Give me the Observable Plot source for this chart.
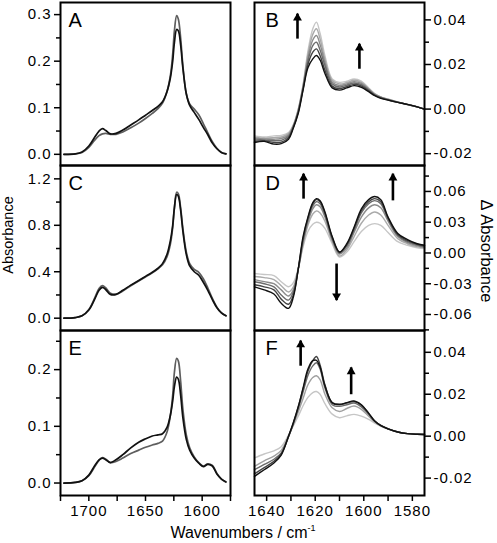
<!DOCTYPE html>
<html><head><meta charset="utf-8">
<script src="https://cdn.jsdelivr.net/npm/d3@7"></script>
<script src="https://cdn.jsdelivr.net/npm/@observablehq/plot@0.6"></script>
<style>
html,body{margin:0;padding:0;background:#fff;}
#fig{position:relative;width:497px;height:543px;overflow:hidden;background:#fff;font-family:"Liberation Sans",Arial,sans-serif;color:#000;}
.cell{position:absolute;}
.cell svg{overflow:visible;}
.cell svg g[aria-label$="axis tick label"] text{letter-spacing:1px;}
.lab{position:absolute;white-space:nowrap;font-family:"Liberation Sans",Arial,sans-serif;}
</style></head><body><div id="fig"></div>
<script>
// ---------- data: absorbance spectra (left column) ----------
const leftWn = [1722,1712,1706,1700,1695,1691,1688,1685,1681,1676,1670,1663,1656,1650,1644,1639,1635,1631,1628,1626,1624.5,1622.5,1621,1619,1617,1614,1611,1607,1603,1599,1595,1591,1587,1583,1579];
const specA_black = [0,0.001,0.005,0.018,0.036,0.05,0.055,0.051,0.044,0.045,0.052,0.063,0.074,0.084,0.094,0.103,0.113,0.135,0.165,0.2,0.24,0.268,0.265,0.235,0.185,0.13,0.105,0.09,0.075,0.058,0.042,0.024,0.012,0.004,0.001];
const specA_gray  = [0,0.001,0.004,0.015,0.03,0.04,0.044,0.045,0.043,0.043,0.048,0.057,0.067,0.077,0.088,0.098,0.11,0.135,0.17,0.215,0.265,0.298,0.29,0.25,0.19,0.13,0.108,0.097,0.085,0.066,0.046,0.027,0.013,0.004,0.001];
const specC_black = [0,0.005,0.02,0.07,0.16,0.24,0.265,0.245,0.205,0.205,0.24,0.285,0.325,0.36,0.395,0.43,0.47,0.55,0.67,0.8,0.95,1.065,1.05,0.93,0.75,0.55,0.45,0.4,0.37,0.31,0.24,0.16,0.09,0.045,0.02];
const specC_gray  = [0,0.005,0.02,0.075,0.17,0.255,0.28,0.26,0.215,0.205,0.235,0.28,0.32,0.355,0.39,0.425,0.46,0.53,0.64,0.78,0.95,1.085,1.07,0.95,0.77,0.57,0.47,0.42,0.395,0.34,0.26,0.17,0.095,0.045,0.02];
const specE_black = [0,0.001,0.004,0.014,0.03,0.041,0.044,0.041,0.036,0.041,0.05,0.062,0.072,0.078,0.083,0.085,0.087,0.098,0.12,0.145,0.17,0.187,0.183,0.155,0.115,0.077,0.058,0.044,0.035,0.029,0.033,0.03,0.016,0.007,0.002];
const specE_gray  = [0,0.001,0.004,0.013,0.028,0.04,0.045,0.042,0.036,0.038,0.044,0.052,0.058,0.063,0.067,0.07,0.074,0.09,0.12,0.155,0.195,0.22,0.215,0.18,0.13,0.085,0.062,0.046,0.036,0.03,0.034,0.031,0.017,0.007,0.002];

// ---------- data: difference spectra (right column) ----------
const rightWn = [1645,1641,1637,1634,1631,1629,1627,1625,1623,1621,1619.5,1618,1616,1613,1610,1607,1604,1601,1598,1595.5,1593,1590,1586,1582,1578,1575];
const diffB_1 = [-0.012,-0.0125,-0.012,-0.0118,-0.0105,-0.007,0.0,0.011,0.026,0.036,0.039,0.034,0.024,0.0135,0.012,0.0125,0.0135,0.0125,0.0095,0.007,0.0055,0.0045,0.0032,0.002,0.001,0.0];
const diffB_2 = [-0.0126,-0.013,-0.0128,-0.0125,-0.011,-0.0072,-0.0003,0.0105,0.0245,0.0335,0.036,0.0315,0.0225,0.0128,0.0113,0.0119,0.0129,0.012,0.0092,0.0068,0.0054,0.0044,0.0032,0.002,0.001,0.0];
const diffB_3 = [-0.0132,-0.0134,-0.0135,-0.0132,-0.0116,-0.0075,-0.0007,0.010,0.023,0.031,0.033,0.029,0.021,0.012,0.0106,0.0113,0.0123,0.0115,0.0089,0.0066,0.0053,0.0043,0.0031,0.002,0.001,0.0];
const diffB_4 = [-0.0138,-0.0138,-0.0142,-0.014,-0.0122,-0.0078,-0.001,0.0095,0.0215,0.0285,0.030,0.0265,0.0195,0.0112,0.0099,0.0107,0.0117,0.011,0.0086,0.0064,0.0052,0.0042,0.0031,0.002,0.001,0.0];
const diffB_5 = [-0.0144,-0.0142,-0.015,-0.0148,-0.0128,-0.0082,-0.0015,0.009,0.020,0.0255,0.027,0.024,0.0175,0.0103,0.0092,0.0101,0.0111,0.0104,0.0082,0.0062,0.005,0.0041,0.003,0.0021,0.001,0.0];
const diffB_6 = [-0.015,-0.0145,-0.0157,-0.0155,-0.0135,-0.0085,-0.002,0.0085,0.0185,0.0225,0.024,0.022,0.016,0.0095,0.0085,0.0095,0.0105,0.0098,0.0078,0.006,0.0048,0.004,0.003,0.0021,0.001,0.0];

const diffD_1 = [-0.020,-0.021,-0.022,-0.028,-0.033,-0.029,-0.015,0.006,0.021,0.028,0.030,0.029,0.024,0.009,-0.004,0.001,0.011,0.021,0.027,0.0286,0.027,0.020,0.011,0.0075,0.005,0.0043];
const diffD_2 = [-0.023,-0.024,-0.026,-0.032,-0.038,-0.033,-0.016,0.008,0.027,0.038,0.041,0.039,0.031,0.011,-0.003,0.003,0.016,0.029,0.037,0.040,0.037,0.027,0.014,0.009,0.006,0.005];
const diffD_3 = [-0.026,-0.028,-0.030,-0.036,-0.042,-0.036,-0.016,0.010,0.030,0.043,0.047,0.045,0.035,0.013,-0.001,0.005,0.020,0.035,0.044,0.047,0.044,0.031,0.016,0.010,0.007,0.0055];
const diffD_4 = [-0.028,-0.030,-0.033,-0.041,-0.046,-0.038,-0.016,0.012,0.032,0.046,0.050,0.048,0.037,0.014,0.0,0.007,0.022,0.039,0.048,0.051,0.048,0.033,0.017,0.011,0.008,0.006];
const diffD_5 = [-0.031,-0.033,-0.036,-0.045,-0.050,-0.041,-0.016,0.014,0.034,0.048,0.052,0.050,0.039,0.015,0.0005,0.008,0.024,0.041,0.050,0.053,0.050,0.034,0.018,0.012,0.0085,0.007];
const diffD_6 = [-0.033,-0.036,-0.040,-0.049,-0.054,-0.043,-0.016,0.016,0.035,0.049,0.053,0.051,0.040,0.016,0.001,0.009,0.025,0.043,0.052,0.055,0.052,0.035,0.019,0.013,0.009,0.0075];

const diffF_1 = [-0.0104,-0.0085,-0.007,-0.005,0.0005,0.005,0.0095,0.0145,0.0185,0.0208,0.0213,0.020,0.0155,0.0105,0.0088,0.0097,0.0104,0.0096,0.008,0.0062,0.0047,0.0034,0.002,0.0012,0.0009,0.0008];
const diffF_2 = [-0.0144,-0.0118,-0.0095,-0.0068,0.0,0.0055,0.0115,0.018,0.0245,0.028,0.0288,0.027,0.020,0.0135,0.0118,0.0132,0.0144,0.0128,0.0095,0.0068,0.005,0.0035,0.002,0.0012,0.0009,0.0008];
const diffF_3 = [-0.016,-0.0135,-0.011,-0.008,-0.0003,0.006,0.013,0.021,0.029,0.0335,0.035,0.032,0.023,0.015,0.0142,0.015,0.0158,0.014,0.0105,0.0071,0.0051,0.0035,0.002,0.0012,0.0009,0.0008];
const diffF_4 = [-0.018,-0.015,-0.012,-0.0085,-0.0003,0.0062,0.0138,0.0225,0.031,0.036,0.038,0.034,0.0245,0.0158,0.015,0.0158,0.0165,0.0148,0.0108,0.0072,0.0051,0.0035,0.002,0.0012,0.0009,0.0008];
const diffF_5 = [-0.0192,-0.016,-0.0128,-0.009,0.0,0.0065,0.014,0.023,0.032,0.036,0.0362,0.033,0.024,0.016,0.0152,0.016,0.0168,0.015,0.011,0.0072,0.005,0.0035,0.002,0.0012,0.0009,0.0008];

// ---------- arrows (wavenumber, tail value, head value) ----------
const arrowsB = [{x:1627.3, tail:0.0316, head:0.0428},{x:1601.8, tail:0.0181, head:0.0293}];
const arrowsD = [{x:1624.8, tail:0.053, head:0.0773},{x:1588, tail:0.0513, head:0.0773},{x:1611.2, tail:-0.0103, head:-0.046}];
const arrowsF = [{x:1626, tail:0.0336, head:0.0456},{x:1605.2, tail:0.020, head:0.0328}];

// ---------- ticks ----------
const leftXTicks = [1700,1650,1600];
const leftXMinor = [1725,1675,1625,1575];
const rightXTicks = [1640,1620,1600,1580];
const rightXMinor = [1630,1610,1590];
const yTicksA = [0,0.1,0.2,0.3],  yMinorA = [0.05,0.15,0.25];
const yTicksC = [0,0.4,0.8,1.2],  yMinorC = [0.2,0.6,1.0];
const yTicksE = [0,0.1,0.2],      yMinorE = [0.05,0.15,0.25];
const yTicksB = [-0.02,0,0.02,0.04], yMinorB = [-0.01,0.01,0.03];
const yTicksD = [-0.06,-0.03,0,0.03,0.06], yMinorD = [-0.075,-0.045,-0.015,0.015,0.045,0.075];
const yTicksF = [-0.02,0,0.02,0.04], yMinorF = [-0.01,0.01,0.03];

const leftColors = ["#5e5e5e","#111111"];
const grays6 = ["#c6c6c6","#aaaaaa","#8c8c8c","#6c6c6c","#444444","#111111"];
const grays5 = ["#c6c6c6","#a0a0a0","#6a6a6a","#444444","#111111"];

const fig = document.getElementById("fig");

function panel(o) {
  const marks = [];
  o.curves.forEach((vals, k) => {
    const data = o.grid.map((w, i) => ({x: w, y: vals[i]}));
    marks.push(Plot.line(data, {x: "x", y: "y", stroke: o.colors[k], strokeWidth: o.sw, curve: "catmull-rom"}));
  });
  const anchorY = o.right ? "right" : "left";
  marks.push(Plot.axisY({anchor: anchorY, ticks: o.yMajor, tickSize: 6, tickPadding: 3, tickFormat: o.yFmt, label: null, strokeWidth: 1.5}));
  marks.push(Plot.axisY({anchor: anchorY, ticks: o.yMinor, tickSize: 4, tickFormat: () => "", label: null, strokeWidth: 1.5}));
  if (o.xMajor) {
    marks.push(Plot.axisX({anchor: "bottom", ticks: o.xMajor, tickSize: 6, tickPadding: 4, tickFormat: d => String(d), label: null, strokeWidth: 1.5}));
    marks.push(Plot.axisX({anchor: "bottom", ticks: o.xMinor, tickSize: 6, tickFormat: () => "", label: null, strokeWidth: 1.5}));
  }
  if (o.arrows) {
    marks.push(Plot.link(o.arrows, {x1: "x", x2: "x", y1: "tail", y2: "head", stroke: "black", strokeWidth: 2.6}));
    marks.push(Plot.dot(o.arrows.filter(a => a.head > a.tail), {x: "x", y: "head", symbol: "triangle", r: 3.3, fill: "black", stroke: "none", dy: 4.2}));
    marks.push(Plot.dot(o.arrows.filter(a => a.head < a.tail), {x: "x", y: "head", symbol: "triangle", r: 3.3, fill: "black", stroke: "none", rotate: 180, dy: -4.2}));
  }
  marks.push(Plot.text([o.letter], {text: d => d, frameAnchor: "top-left", lineAnchor: "top", textAnchor: "start", dx: o.right ? 11 : 8, dy: 10, fontSize: 20, fill: "black"}));
  marks.push(Plot.frame({stroke: "black", strokeWidth: 2}));
  const p = Plot.plot({
    width: o.width, height: o.height,
    marginTop: o.mt, marginBottom: o.mb, marginLeft: o.ml, marginRight: o.mr,
    x: {domain: o.xDomain, axis: null},
    y: {domain: o.yDomain, axis: null},
    style: {background: "none", fontSize: "15px", fontFamily: "'Liberation Sans', Arial, sans-serif", overflow: "visible", color: "black"},
    marks
  });
  const div = document.createElement("div");
  div.className = "cell";
  div.style.left = o.left + "px";
  div.style.top = o.top + "px";
  div.appendChild(p);
  fig.appendChild(div);
}

const f1 = d => d.toFixed(1);
const f2 = d => d.toFixed(2);
const leftX = [1725, 1575];
const rightX = [1645, 1575];
const L = {left: 0, width: 240, ml: 60, mr: 10, grid: leftWn, xDomain: leftX, colors: leftColors, sw: 1.7, yFmt: f1};
const R = {left: 244, width: 253, ml: 10, mr: 73, grid: rightWn, xDomain: rightX, sw: 1.4, yFmt: f2, right: true};

// row 1
panel({...L, top: 0, height: 170, mt: 2, mb: 5, yDomain: [-0.024, 0.326], curves: [specA_gray, specA_black], yMajor: yTicksA, yMinor: yMinorA, letter: "A"});
panel({...R, top: 0, height: 170, mt: 2, mb: 5, yDomain: [-0.0253, 0.0478], curves: [diffB_1, diffB_2, diffB_3, diffB_4, diffB_5, diffB_6], colors: grays6, yMajor: yTicksB, yMinor: yMinorB, letter: "B", arrows: arrowsB});
// row 2
panel({...L, top: 160, height: 175, mt: 5, mb: 5, yDomain: [-0.106, 1.315], curves: [specC_gray, specC_black], yMajor: yTicksC, yMinor: yMinorC, letter: "C"});
panel({...R, top: 160, height: 175, mt: 5, mb: 5, yDomain: [-0.0756, 0.0853], curves: [diffD_1, diffD_2, diffD_3, diffD_4, diffD_5, diffD_6], colors: grays6, yMajor: yTicksD, yMinor: yMinorD, letter: "D", arrows: arrowsD});
// row 3
panel({...L, top: 325, height: 200, mt: 5, mb: 30, yDomain: [-0.022, 0.269], curves: [specE_gray, specE_black], yMajor: yTicksE, yMinor: yMinorE, letter: "E", xMajor: leftXTicks, xMinor: leftXMinor});
panel({...R, top: 325, height: 200, mt: 5, mb: 30, yDomain: [-0.0283, 0.0504], curves: [diffF_1, diffF_2, diffF_3, diffF_4, diffF_5], colors: grays5, yMajor: yTicksF, yMinor: yMinorF, letter: "F", arrows: arrowsF, xMajor: rightXTicks, xMinor: rightXMinor});

// axis titles
function label(html, x, y, size, rot) {
  const d = document.createElement("div");
  d.className = "lab";
  d.innerHTML = html;
  d.style.left = x + "px";
  d.style.top = y + "px";
  d.style.fontSize = size + "px";
  d.style.lineHeight = "1";
  d.style.transform = "translate(-50%,-50%)" + (rot ? ` rotate(${rot}deg)` : "");
  fig.appendChild(d);
}
label("Absorbance", 8, 235, 14.5, -90);
label("&Delta; Absorbance", 487, 251, 16.5, 90);
label("Wavenumbers / cm<sup style=\"font-size:9px;vertical-align:7px;line-height:0\">-1</sup>", 243, 533, 16, 0);
</script>
</body></html>
